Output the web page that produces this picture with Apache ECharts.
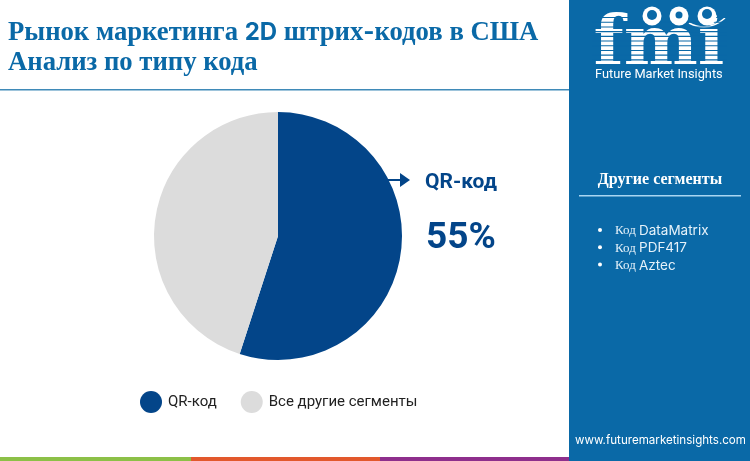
<!DOCTYPE html>
<html>
<head>
<meta charset="utf-8">
<style>html,body{margin:0;padding:0;background:#fff}#main{width:750px;height:461px}</style>
<script src="https://cdn.jsdelivr.net/npm/echarts@6/dist/echarts.min.js"></script>
</head>
<body>
<div id="main"></div>
<script>
var categories = ['QR-код', 'Все другие сегменты'];
var shares = [55, 45];
var segments = ['DataMatrix', 'PDF417', 'Aztec'];

var PANEL = '#0a69a7';
var NAVY = '#034589';
var serif = '"Liberation Serif"';

var myChart = echarts.init(document.getElementById('main'));

var elements = [
    // правая панель и нижняя полоса
    { type: 'rect', shape: { x: 569, y: 0, width: 181, height: 461 }, style: { fill: PANEL } },
    { type: 'rect', shape: { x: 0, y: 89, width: 569, height: 1.5 }, style: { fill: '#3f8ab8' } },
    { type: 'rect', shape: { x: 0, y: 457, width: 191, height: 4 }, style: { fill: '#8cc047' } },
    { type: 'rect', shape: { x: 191, y: 457, width: 189, height: 4 }, style: { fill: '#e2582c' } },
    { type: 'rect', shape: { x: 380, y: 457, width: 189, height: 4 }, style: { fill: '#8e2f8c' } },
    // заголовок
    { type: 'text', x: 8, y: 33, style: {
        text: '{s|Рынок маркетинга }{d|2D}{s| штрих}{d|-}{s|кодов в США}',
        verticalAlign: 'middle',
        rich: {
            s: { fontFamily: serif, fontWeight: 'bold', fontSize: 26.7, fill: PANEL },
            d: { fontFamily: 'Inter', fontWeight: 'bold', fontSize: 24, fill: PANEL }
        }
    } },
    { type: 'text', x: 8, y: 63, style: {
        text: 'Анализ по типу кода', fill: PANEL, verticalAlign: 'middle',
        font: 'bold 26.7px ' + serif
    } },
    // подпись сектора
    { type: 'line', shape: { x1: 388, y1: 180, x2: 402, y2: 180 }, style: { stroke: NAVY, lineWidth: 2 } },
    { type: 'polygon', shape: { points: [[400, 173], [410, 180], [400, 187]] }, style: { fill: NAVY } },
    { type: 'text', x: 425, y: 183, style: {
        text: categories[0], fill: NAVY, verticalAlign: 'middle', font: 'bold 21px Roboto'
    } },
    { type: 'text', x: 426, y: 239, style: {
        text: shares[0] + '%', fill: NAVY, verticalAlign: 'middle', font: 'bold 37px Roboto'
    } },
    // логотип
    { type: 'text', x: 659, y: 47, style: {
        text: 'fmi', fill: '#fff', align: 'center', verticalAlign: 'middle',
        font: 'bold 70px "DejaVu Serif"'
    } },
    { type: 'text', x: 595, y: 75, style: {
        text: 'Future Market Insights', fill: '#fff', verticalAlign: 'middle', font: '12.8px Roboto'
    } },
    { type: 'bezierCurve', shape: { x1: 689, y1: 23, cpx1: 708, cpy1: 33, x2: 725, y2: 18 }, style: { fill: 'none', stroke: '#fff', lineWidth: 1.5 } },
    // другие сегменты
    { type: 'text', x: 660, y: 180, style: {
        text: 'Другие сегменты', fill: '#fff', align: 'center', verticalAlign: 'middle',
        font: 'bold 16px ' + serif
    } },
    { type: 'rect', shape: { x: 579, y: 195, width: 162, height: 1.5 }, style: { fill: '#a9d6f2' } },
    { type: 'text', x: 575, y: 441, style: {
        text: 'www.futuremarketinsights.com', fill: '#fff', verticalAlign: 'middle', font: '11.6px Inter'
    } }
];

// полосы на буквах логотипа
for (var y = 17; y < 65; y += 4.7) {
    elements.push({ type: 'rect', shape: { x: 592, y: y, width: 135, height: 1.1 }, style: { fill: PANEL } });
}
// глобусы
[652, 679, 707].forEach(function (cx, i) {
    elements.push({ type: 'circle', shape: { cx: cx, cy: 16, r: 9.5 }, style: { fill: '#fff' } });
    elements.push({ type: 'circle', shape: { cx: cx, cy: i === 2 ? 14 : 15, r: i === 1 ? 3.5 : 5 }, style: { fill: PANEL } });
});

segments.forEach(function (name, i) {
    var y = 231 + i * 17.3;
    elements.push({ type: 'circle', shape: { cx: 600, cy: y - 1, r: 2 }, style: { fill: '#fff' } });
    elements.push({ type: 'text', x: 615, y: y, style: {
        text: '{a|Код }{b|' + name + '}',
        verticalAlign: 'middle',
        rich: {
            a: { fontFamily: serif, fontSize: 13, fill: '#e6f2fa' },
            b: { fontFamily: 'Inter', fontSize: 13.5, fill: '#e6f2fa' }
        }
    } });
});

option = {
    animation: false,
    backgroundColor: '#fff',
    legend: {
        data: categories,
        left: 135,
        top: 386,
        icon: 'circle',
        itemWidth: 22,
        itemHeight: 22,
        itemGap: 24,
        selectedMode: false,
        textStyle: { fontFamily: 'Roboto', fontSize: 15, color: '#222', padding: [0, 0, 0, 1] }
    },
    graphic: { elements: elements },
    series: [
        {
            type: 'pie',
            center: [278, 236],
            radius: [0, 124],
            startAngle: 90,
            clockwise: true,
            silent: true,
            label: { show: false },
            labelLine: { show: false },
            data: [
                { name: categories[0], value: shares[0], itemStyle: { color: NAVY } },
                { name: categories[1], value: shares[1], itemStyle: { color: '#dcdcdc' } }
            ]
        }
    ]
};

myChart.setOption(option);
</script>
</body>
</html>
